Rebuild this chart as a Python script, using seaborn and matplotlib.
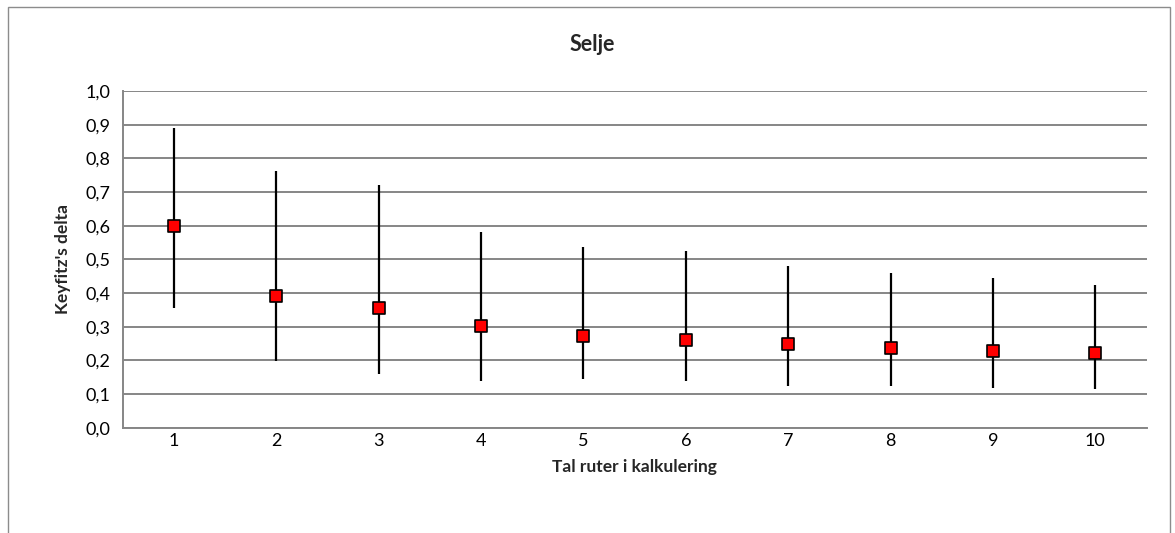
import matplotlib
matplotlib.use("Agg")
import matplotlib.pyplot as plt
from matplotlib.patches import Rectangle
from matplotlib.ticker import FuncFormatter
import seaborn as sns
import pandas as pd

# Keyfitz's delta by number of grid cells used in the calculation
n_cells = [1, 2, 3, 4, 5, 6, 7, 8, 9, 10]
delta = [0.599, 0.390, 0.355, 0.302, 0.273, 0.259, 0.248, 0.237, 0.228, 0.223]
delta_low = [0.355, 0.199, 0.160, 0.140, 0.145, 0.139, 0.125, 0.123, 0.117, 0.114]
delta_high = [0.889, 0.763, 0.720, 0.582, 0.536, 0.526, 0.481, 0.459, 0.446, 0.424]

df = pd.DataFrame({"cells": n_cells, "delta": delta,
                   "low": delta_low, "high": delta_high})

sns.set_style("white")
plt.rcParams["font.family"] = ["Lato", "DejaVu Sans"]

fig = plt.figure(figsize=(11.75, 5.33), dpi=100)
ax = fig.add_axes([0.1043, 0.1976, 0.8715, 0.6317])

# outer chart frame
fig.patches.append(Rectangle((8 / 1175, -0.02), 1162 / 1175, 1.02 - 7 / 533,
                             transform=fig.transFigure, fill=False,
                             edgecolor="#8c8c8c", linewidth=1.0, zorder=0))

grid_col = "#868686"
ax.set_ylim(0, 1.0)
ax.set_xlim(0.5, 10.5)
ax.set_yticks([i / 10 for i in range(11)])
ax.set_xticks(n_cells)
ax.yaxis.grid(True, color=grid_col, linewidth=1.4)
ax.xaxis.grid(False)
ax.set_axisbelow(True)
for side in ["top", "right"]:
    ax.spines[side].set_visible(False)
for side in ["left", "bottom"]:
    ax.spines[side].set_color(grid_col)
    ax.spines[side].set_linewidth(1.4)

# range bars
ax.vlines(df["cells"], df["low"], df["high"], color="black", linewidth=1.6, zorder=2)

sns.scatterplot(data=df, x="cells", y="delta", marker="s", s=80,
                color="#ff0000", edgecolor="black", linewidth=1.2,
                zorder=3, ax=ax, legend=False)

ax.yaxis.set_major_formatter(FuncFormatter(lambda v, p: f"{v:.1f}".replace(".", ",")))
ax.tick_params(axis="both", length=0, labelsize=13, colors="black")
ax.tick_params(axis="y", pad=9)
ax.tick_params(axis="x", pad=4)

ax.set_xlabel("Tal ruter i kalkulering", fontsize=12.5, fontweight="bold", labelpad=7)
ax.set_ylabel("Keyfitz's delta", fontsize=12.5, fontweight="bold", labelpad=10)
fig.text(0.5043, 1 - 45 / 533, "Selje", ha="center", va="center",
         fontsize=15.5, fontweight="bold")

fig.savefig("out.png", dpi=100)
